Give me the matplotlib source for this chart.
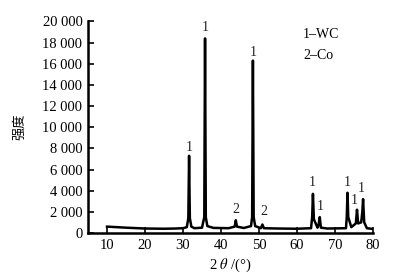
import matplotlib.pyplot as plt

plt.rcParams['mathtext.fontset'] = 'stix'

# XRD pattern (2theta in degrees, intensity)
two_theta = [10, 12, 15, 20, 25, 28, 30, 31.0, 31.4, 31.6, 31.8, 32.2, 33, 35.0,
             35.6, 35.8, 36.0, 36.4, 38, 42, 43.6, 43.9, 44.2, 46, 47.9, 48.2, 48.4,
             48.6, 49.0, 50.5, 50.9, 51.3, 55, 60, 63.7, 64.0, 64.2, 64.45, 65.4,
             65.7, 66.0, 66.3, 68, 72.9, 73.1, 73.3, 73.5, 74.3, 75.5, 75.8,
             76.1, 76.9, 77.2, 77.4, 77.7, 78.4, 80]
intensity = [600, 560, 500, 420, 400, 420, 450, 550, 1400, 7300, 1400, 600, 450, 500,
             1500, 18400, 1500, 650, 480, 450, 600, 1200, 600, 470, 650, 1500, 16300,
             1500, 650, 450, 800, 450, 420, 400, 450, 1500, 3700, 1300, 500,
             800, 1500, 500, 420, 450, 1500, 3800, 1500, 550, 900, 2200,
             900, 1000, 2000, 3200, 1000, 450, 380]

# peak labels: 1 = WC, 2 = Co
label_x = [31.6, 35.8, 43.9, 48.4, 51.2, 64.0, 66.0, 73.2, 75.1, 76.9]
label_y = [8100, 19400, 2250, 17100, 2000, 4800, 2500, 4800, 3100, 4250]
label_txt = ['1', '1', '2', '1', '2', '1', '1', '1', '1', '1']

legend_lines = ['1\u2013WC', '2\u2013Co']

yticks = list(range(0, 20001, 2000))
ytick_labels = ['0' if v == 0 else f'{v // 1000} 000' for v in yticks]
xticks = list(range(10, 81, 10))

serif = ['Liberation Serif', 'DejaVu Serif']

fig = plt.figure(figsize=(3.93, 2.79), dpi=100)
ax = fig.add_axes([0.224, 0.165, 0.725, 0.758])

ax.plot(two_theta, intensity, color='black', lw=1.8, solid_joinstyle='round')

for x, y, t in zip(label_x, label_y, label_txt):
    ax.text(x, y, t, ha='center', va='center', fontsize=10, family=serif, color='#222222')

ax.text(0.755, 0.94, legend_lines[0], transform=ax.transAxes, fontsize=10,
        family=serif, va='center')
ax.text(0.755, 0.84, legend_lines[1], transform=ax.transAxes, fontsize=10,
        family=serif, va='center')

ax.set_xlim(5, 80)
ax.set_ylim(0, 20000)
ax.set_xticks(xticks)
ax.set_xticklabels([str(v) for v in xticks], family=serif, fontsize=10.5)
ax.set_yticks(yticks)
ax.set_yticklabels(ytick_labels, family=serif, fontsize=10.5)
ax.tick_params(direction='in', length=4, width=1.2, pad=4)

for s in ['top', 'right']:
    ax.spines[s].set_visible(False)
for s in ['left', 'bottom']:
    ax.spines[s].set_linewidth(1.8)

ax.set_xlabel('2 $\\it{\\theta}$ /(°)', family=serif, fontsize=10.5, labelpad=4)
ax.set_ylabel('强度', family=['Noto Sans CJK SC', 'DejaVu Sans'], fontsize=9.5, labelpad=12)

fig.savefig('out.png', dpi=100)
